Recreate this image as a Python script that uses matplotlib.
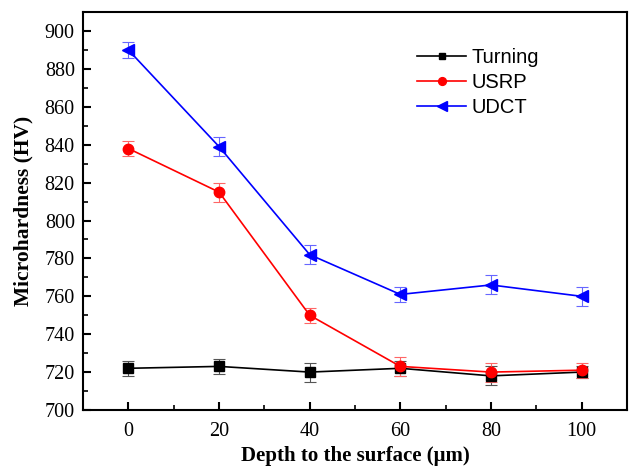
import numpy as np
import matplotlib.pyplot as plt
from matplotlib.ticker import MultipleLocator

plt.rcParams['font.family'] = ['Liberation Serif', 'DejaVu Serif']

# 数据
depth = [0, 20, 40, 60, 80, 100]
turning = [722, 723, 720, 722, 718, 720]
turning_err = [4, 4, 5, 4, 5, 3]
usrp = [838, 815, 750, 723, 720, 721]
usrp_err = [4, 5, 4, 5, 5, 4]
udct = [890, 839, 782, 761, 766, 760]
udct_err = [4, 5, 5, 4, 5, 5]

fig = plt.figure(figsize=(6.3, 4.68), dpi=100)
ax = fig.add_axes([0.132, 0.124, 0.863, 0.85])

c1 = ax.errorbar(depth, turning, yerr=turning_err, color='black', marker='s', ms=6.5,
                 lw=1.2, capsize=4, elinewidth=0.8, capthick=0.8, ecolor='#555555', label='Turning')
c2 = ax.errorbar(depth, usrp, yerr=usrp_err, color='red', marker='o', ms=7.5,
                 lw=1.2, capsize=4, elinewidth=0.8, capthick=0.8, ecolor='#ff6666', label='USRP')
c3 = ax.errorbar(depth, udct, yerr=udct_err, color='blue', marker='<', ms=9,
                 lw=1.2, capsize=4, elinewidth=0.8, capthick=0.8, ecolor='#6666ff', label='UDCT')

ax.set_xlim(-10, 110)
ax.set_ylim(700, 910)
ax.xaxis.set_major_locator(MultipleLocator(20))
ax.xaxis.set_minor_locator(MultipleLocator(10))
ax.yaxis.set_major_locator(MultipleLocator(20))
ax.yaxis.set_minor_locator(MultipleLocator(10))
ax.tick_params(which='both', direction='in', top=False, right=False, labelsize=14.5)
ax.tick_params(axis='x', which='major', pad=9)
ax.tick_params(axis='y', which='major', pad=6)
ax.tick_params(which='major', length=6, width=1.5)
ax.tick_params(which='minor', length=3.5, width=1.2)
for s in ax.spines.values():
    s.set_linewidth(1.5)

ax.set_xlabel('Depth to the surface (μm)', fontsize=15, fontweight='bold', labelpad=3)
ax.set_ylabel('Microhardness (HV)', fontsize=15.5, fontweight='bold', labelpad=8)

ax.legend([c1[0], c2[0], c3[0]], ['Turning', 'USRP', 'UDCT'],
          loc='upper left', bbox_to_anchor=(0.6, 0.93), frameon=False,
          prop={'family': 'Liberation Sans', 'size': 14.5}, markerscale=0.75,
          handlelength=2.4, handletextpad=0.3, labelspacing=0.3, borderaxespad=0)

fig.savefig('out.png', dpi=100)
